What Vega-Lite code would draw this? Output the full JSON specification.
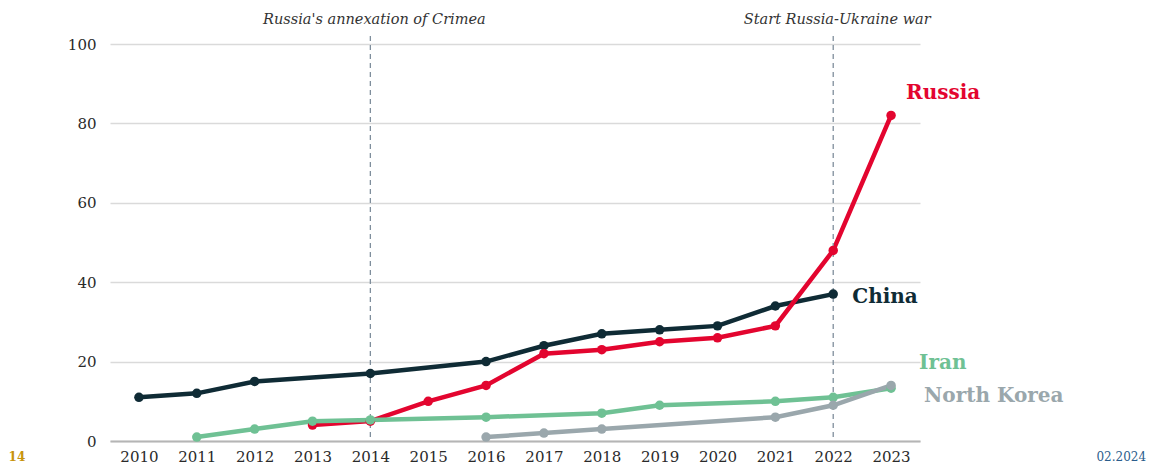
{
  "$schema": "https://vega.github.io/schema/vega-lite/v6.json",
  "width": 810,
  "height": 397,
  "autosize": {"type": "none"},
  "padding": {"left": 110, "top": 44, "right": 232, "bottom": 23},
  "background": "white",
  "config": {"view": {"stroke": null}, "font": "DejaVu Serif"},
  "datasets": {
    "series": [
      {"country": "China", "year": 2010, "value": 11},
      {"country": "China", "year": 2011, "value": 12},
      {"country": "China", "year": 2012, "value": 15},
      {"country": "China", "year": 2014, "value": 17},
      {"country": "China", "year": 2016, "value": 20},
      {"country": "China", "year": 2017, "value": 24},
      {"country": "China", "year": 2018, "value": 27},
      {"country": "China", "year": 2019, "value": 28},
      {"country": "China", "year": 2020, "value": 29},
      {"country": "China", "year": 2021, "value": 34},
      {"country": "China", "year": 2022, "value": 37},
      {"country": "Russia", "year": 2013, "value": 4},
      {"country": "Russia", "year": 2014, "value": 5},
      {"country": "Russia", "year": 2015, "value": 10},
      {"country": "Russia", "year": 2016, "value": 14},
      {"country": "Russia", "year": 2017, "value": 22},
      {"country": "Russia", "year": 2018, "value": 23},
      {"country": "Russia", "year": 2019, "value": 25},
      {"country": "Russia", "year": 2020, "value": 26},
      {"country": "Russia", "year": 2021, "value": 29},
      {"country": "Russia", "year": 2022, "value": 48},
      {"country": "Russia", "year": 2023, "value": 82},
      {"country": "Iran", "year": 2011, "value": 1},
      {"country": "Iran", "year": 2012, "value": 3},
      {"country": "Iran", "year": 2013, "value": 5},
      {"country": "Iran", "year": 2014, "value": 5.3},
      {"country": "Iran", "year": 2016, "value": 6},
      {"country": "Iran", "year": 2018, "value": 7},
      {"country": "Iran", "year": 2019, "value": 9},
      {"country": "Iran", "year": 2021, "value": 10},
      {"country": "Iran", "year": 2022, "value": 11},
      {"country": "Iran", "year": 2023, "value": 13.3},
      {"country": "North Korea", "year": 2016, "value": 1},
      {"country": "North Korea", "year": 2017, "value": 2},
      {"country": "North Korea", "year": 2018, "value": 3},
      {"country": "North Korea", "year": 2021, "value": 6},
      {"country": "North Korea", "year": 2022, "value": 9},
      {"country": "North Korea", "year": 2023, "value": 14}
    ],
    "events": [
      {"year": 2014, "t": "Russia's annexation of Crimea"},
      {"year": 2022, "t": "Start Russia-Ukraine war"}
    ]
  },
  "layer": [
    {
      "data": {"name": "series"},
      "mark": {"type": "line", "strokeWidth": 4.5},
      "encoding": {
        "x": {
          "field": "year",
          "type": "ordinal",
          "scale": {"type": "point", "padding": 0.5, "domain": [2010, 2011, 2012, 2013, 2014, 2015, 2016, 2017, 2018, 2019, 2020, 2021, 2022, 2023]},
          "axis": {"title": null, "labelAngle": 0, "ticks": false, "domainColor": "#b5b5b5", "domainWidth": 2, "labelPadding": 8, "labelFontSize": 15, "labelColor": "#2a2a2a", "grid": false, "labelFont": "DejaVu Serif"}
        },
        "y": {
          "field": "value",
          "type": "quantitative",
          "scale": {"domain": [0, 100], "nice": false},
          "axis": {"title": null, "values": [0, 20, 40, 60, 80, 100], "grid": true, "gridColor": "#dadada", "gridWidth": 1.5, "domain": false, "ticks": false, "labelPadding": 14, "labelFontSize": 15, "labelColor": "#2a2a2a", "labelFont": "DejaVu Serif"}
        },
        "color": {"field": "country", "type": "nominal", "scale": {"domain": ["Iran", "North Korea", "China", "Russia"], "range": ["#6fc194", "#9aa7ac", "#0f2b35", "#e3052f"]}, "legend": null}
      }
    },
    {
      "data": {"name": "events"},
      "mark": {"type": "rule", "strokeDash": [5, 4], "color": "#7f8e9c", "strokeWidth": 1.3},
      "encoding": {
        "x": {"field": "year", "type": "ordinal"},
        "y": {"datum": 102, "type": "quantitative"},
        "y2": {"datum": 0}
      }
    },
    {
      "data": {"name": "events"},
      "mark": {"type": "text", "fontStyle": "italic", "fontSize": 14.5, "color": "#333333", "dy": -24, "dx": 4, "baseline": "middle"},
      "encoding": {
        "x": {"field": "year", "type": "ordinal"},
        "y": {"datum": 100, "type": "quantitative"},
        "text": {"field": "t"}
      }
    },
    {
      "data": {"name": "series"},
      "mark": {"type": "point", "filled": true, "size": 90, "opacity": 1},
      "encoding": {
        "x": {"field": "year", "type": "ordinal"},
        "y": {"field": "value", "type": "quantitative"},
        "color": {"field": "country", "type": "nominal", "legend": null}
      }
    },
    {
      "data": {"values": [{"year": 2023, "value": 82, "t": "Russia"}]},
      "mark": {"type": "text", "fontWeight": "bold", "fontSize": 20, "color": "#e3052f", "align": "left", "baseline": "middle", "dx": 15, "dy": -22},
      "encoding": {"x": {"field": "year", "type": "ordinal"}, "y": {"field": "value", "type": "quantitative"}, "text": {"field": "t"}}
    },
    {
      "data": {"values": [{"year": 2022, "value": 37, "t": "China"}]},
      "mark": {"type": "text", "fontWeight": "bold", "fontSize": 20, "color": "#0f2b35", "align": "left", "baseline": "middle", "dx": 19, "dy": 3},
      "encoding": {"x": {"field": "year", "type": "ordinal"}, "y": {"field": "value", "type": "quantitative"}, "text": {"field": "t"}}
    },
    {
      "data": {"values": [{"year": 2023, "value": 13.3, "t": "Iran"}]},
      "mark": {"type": "text", "fontWeight": "bold", "fontSize": 20, "color": "#6fc194", "align": "left", "baseline": "middle", "dx": 28, "dy": -25},
      "encoding": {"x": {"field": "year", "type": "ordinal"}, "y": {"field": "value", "type": "quantitative"}, "text": {"field": "t"}}
    },
    {
      "data": {"values": [{"year": 2023, "value": 14, "t": "North Korea"}]},
      "mark": {"type": "text", "fontWeight": "bold", "fontSize": 20, "color": "#9aa7ac", "align": "left", "baseline": "middle", "dx": 33, "dy": 11},
      "encoding": {"x": {"field": "year", "type": "ordinal"}, "y": {"field": "value", "type": "quantitative"}, "text": {"field": "t"}}
    },
    {
      "data": {"values": [{"year": 2010, "value": 0, "t": "14"}]},
      "mark": {"type": "text", "fontWeight": "bold", "fontSize": 12, "color": "#c8940c", "align": "center", "baseline": "middle", "dx": -122, "dy": 16},
      "encoding": {"x": {"field": "year", "type": "ordinal"}, "y": {"field": "value", "type": "quantitative"}, "text": {"field": "t"}}
    },
    {
      "data": {"values": [{"year": 2023, "value": 0, "t": "02.2024"}]},
      "mark": {"type": "text", "fontSize": 12, "color": "#2b5d8c", "align": "right", "baseline": "middle", "dx": 255, "dy": 16},
      "encoding": {"x": {"field": "year", "type": "ordinal"}, "y": {"field": "value", "type": "quantitative"}, "text": {"field": "t"}}
    }
  ]
}
